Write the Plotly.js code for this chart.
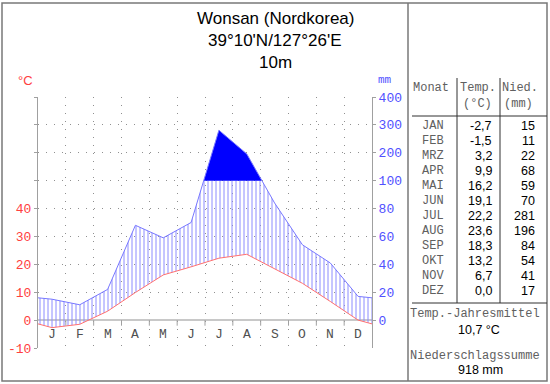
<!DOCTYPE html>
<html>
<head>
<meta charset="utf-8">
<script src="https://cdn.plot.ly/plotly-3.0.1.min.js"></script>
<style>html,body{margin:0;padding:0;background:#fff;}#chart{width:550px;height:384px;}</style>
</head>
<body>
<div id="chart"></div>
<script>
// ---- data ----
const monthLetters = ['J','F','M','A','M','J','J','A','S','O','N','D'];
const monthAbbr = ['JAN','FEB','MRZ','APR','MAI','JUN','JUL','AUG','SEP','OKT','NOV','DEZ'];
const temp = [-2.7,-1.5,3.2,9.9,16.2,19.1,22.2,23.6,18.3,13.2,6.7,0.0];
const precip = [15,11,22,68,59,70,281,196,84,54,41,17];
const tempTicks = [-10,0,10,20,30,40];
const precipTicks = [0,20,40,60,80,100,200,300,400];
const titleLines = ['Wonsan (Nordkorea)','39°10\'N/127°26\'E','10m'];

// ---- scale helpers ----
const pd = p => p <= 100 ? p/2 : 50 + (p-100)/10;   // precipitation -> temperature-axis units
const L=38, R=372, T=97, B=348;
const px = p => (p-L)/(R-L);
const py = p => (B-p)/(B-T);
const fmt = v => v.toFixed(1).replace('.',',');

// polyline (month centres, with edges = mean of Dec/Jan)
const xs0 = [0].concat(temp.map((_,i)=>i+0.5)).concat([12]);
const tEdge = (temp[0]+temp[11])/2;
const tLine = [tEdge].concat(temp).concat([tEdge]);
const pDisp = precip.map(pd);
const pEdge = (pDisp[0]+pDisp[11])/2;
const pLine = [pEdge].concat(pDisp).concat([pEdge]);

// insert crossings with 100 mm level
const xs=[], ys=[];
for (let i=0;i<xs0.length;i++){
  xs.push(xs0[i]); ys.push(pLine[i]);
  if (i<xs0.length-1){
    const a=pLine[i]-50, b=pLine[i+1]-50;
    if (a*b<0){
      const f=a/(a-b);
      xs.push(xs0[i]+f*(xs0[i+1]-xs0[i])); ys.push(50);
    }
  }
}
const capY = ys.map(v=>Math.min(v,50));
const overY = ys.map(v=>Math.max(v,50));
const fifty = ys.map(()=>50);

const traces = [
  {x:xs0, y:tLine, mode:'lines', line:{color:'rgba(0,0,0,0)',width:0}, hoverinfo:'skip', showlegend:false},
  {x:xs, y:capY, mode:'lines', line:{color:'rgba(0,0,0,0)',width:0}, fill:'tonexty',
   fillcolor:'rgba(0,0,0,0)',
   fillpattern:{shape:'|', size:4, solidity:0.25, fgcolor:'#8c8cff', bgcolor:'rgba(0,0,0,0)'},
   hoverinfo:'skip', showlegend:false},
  {x:xs, y:fifty, mode:'lines', line:{color:'rgba(0,0,0,0)',width:0}, hoverinfo:'skip', showlegend:false},
  {x:xs, y:overY, mode:'lines', line:{color:'rgba(0,0,0,0)',width:0}, fill:'tonexty', fillcolor:'#0000ff', hoverinfo:'skip', showlegend:false},
  {x:xs0, y:pLine, mode:'lines', line:{color:'#7878ff',width:1}, hoverinfo:'skip', showlegend:false},
  {x:xs0, y:tLine, mode:'lines', line:{color:'#ff7070',width:1}, hoverinfo:'skip', showlegend:false}
];

const mono = 'Liberation Mono, Courier New, monospace';
const sans = 'Liberation Sans, Arial, sans-serif';
const gridDash = '1px,7px';

const annotations = [];
const shapes = [];

// title
titleLines.forEach((t,i)=>annotations.push({text:t, xref:'paper', yref:'paper', x:px(275), y:py(18+i*22.5),
  xanchor:'center', yanchor:'middle', showarrow:false, font:{family:sans, size:17, color:'#000'}}));
// unit labels
annotations.push({text:'°C', xref:'paper', yref:'paper', x:px(25), y:py(80), xanchor:'center', yanchor:'middle', showarrow:false, font:{family:sans,size:13,color:'#ff4040'}});
annotations.push({text:'mm', xref:'paper', yref:'paper', x:px(385), y:py(80), xanchor:'center', yanchor:'middle', showarrow:false, font:{family:mono,size:11,color:'#5050ff'}});
// month letters
monthLetters.forEach((m,i)=>annotations.push({text:m, xref:'x', yref:'y', x:i+0.5, y:-5, xanchor:'center', yanchor:'middle', showarrow:false, font:{family:mono,size:13,color:'#505050'}}));
// month ticks on zero line
for (let i=1;i<12;i++) shapes.push({type:'line', xref:'x', yref:'y', x0:i, x1:i, y0:0, y1:-2, line:{color:'#a0a0a0', width:1}});

// borders
const bc = '#787878';
shapes.push({type:'rect', xref:'paper', yref:'paper', x0:px(2), x1:px(547), y0:py(3), y1:py(381), line:{color:bc,width:1.5}});
shapes.push({type:'line', xref:'paper', yref:'paper', x0:px(408), x1:px(408), y0:py(3), y1:py(381), line:{color:bc,width:1.5}});
// table lines
const tc = '#303030';
shapes.push({type:'line', xref:'paper', yref:'paper', x0:px(412), x1:px(547), y0:py(116), y1:py(116), line:{color:tc,width:1}});
shapes.push({type:'line', xref:'paper', yref:'paper', x0:px(412), x1:px(547), y0:py(303), y1:py(303), line:{color:tc,width:1}});
shapes.push({type:'line', xref:'paper', yref:'paper', x0:px(457), x1:px(457), y0:py(78), y1:py(303), line:{color:tc,width:1}});
shapes.push({type:'line', xref:'paper', yref:'paper', x0:px(500), x1:px(500), y0:py(78), y1:py(303), line:{color:tc,width:1}});

function txt(t, x, y, anchor, font){
  annotations.push({text:t, xref:'paper', yref:'paper', x:px(x), y:py(y), xanchor:anchor, yanchor:'middle', showarrow:false, font:font});
}
const fMono = {family:mono, size:12, color:'#606060'};
const fSans = {family:sans, size:12.5, color:'#000'};
txt('Monat', 431, 88, 'center', fMono);
txt('Temp.', 478, 88, 'center', fMono);
txt('(°C)', 477, 104, 'center', fMono);
txt('Nied.', 520, 88, 'center', fMono);
txt('(mm)', 518, 104, 'center', fMono);
monthAbbr.forEach((m,i)=>{
  const y = 126 + i*15;
  txt(m, 446, y, 'right', fMono);
  txt(fmt(temp[i]), 494, y, 'right', fSans);
  txt(String(precip[i]), 537, y, 'right', fSans);
});
const meanT = temp.reduce((a,b)=>a+b,0)/temp.length;
const sumP = precip.reduce((a,b)=>a+b,0);
txt('Temp.-Jahresmittel', 475, 314, 'center', fMono);
txt(fmt(meanT)+' °C', 479, 330, 'center', fSans);
txt('Niederschlagssumme', 475, 356, 'center', fMono);
txt(sumP+' mm', 480, 370, 'center', fSans);

const yTickVals = []; for (let v=-10; v<=80; v+=10) yTickVals.push(v);
const yTickText = yTickVals.map(v => tempTicks.includes(v) ? String(v) : '');

const layout = {
  width:550, height:384,
  margin:{l:L, r:550-R, t:T, b:384-B, pad:0},
  paper_bgcolor:'#fff', plot_bgcolor:'#fff',
  showlegend:false,
  xaxis:{range:[0,12], tickvals:[0,1,2,3,4,5,6,7,8,9,10,11,12], showticklabels:false, ticks:'',
    showgrid:true, gridcolor:'#909090', gridwidth:1, griddash:gridDash, zeroline:false, showline:false, fixedrange:true},
  yaxis:{range:[-10,80], tickvals:yTickVals, ticktext:yTickText, ticks:'outside', ticklen:3, tickcolor:'#a0a0a0',
    showgrid:true, gridcolor:'#909090', gridwidth:1, griddash:gridDash,
    zeroline:true, zerolinecolor:'#c8c8c8', zerolinewidth:2,
    showline:true, linecolor:'#a0a0a0', linewidth:1,
    tickfont:{family:mono, size:13, color:'#ff4040'}, fixedrange:true},
  yaxis2:{range:[-10,80], overlaying:'y', side:'right', tickvals:precipTicks.map(pd), ticktext:precipTicks.map(String),
    ticks:'outside', ticklen:3, tickcolor:'#a0a0a0', showgrid:false, zeroline:false,
    showline:true, linecolor:'#a0a0a0', linewidth:1,
    tickfont:{family:mono, size:13, color:'#5050ff'}, fixedrange:true},
  annotations:annotations,
  shapes:shapes
};
// dummy trace to activate yaxis2
traces.push({x:[0], y:[0], yaxis:'y2', mode:'markers', marker:{opacity:0}, hoverinfo:'skip', showlegend:false});

Plotly.newPlot('chart', traces, layout, {staticPlot:true, displayModeBar:false});
</script>
</body>
</html>
